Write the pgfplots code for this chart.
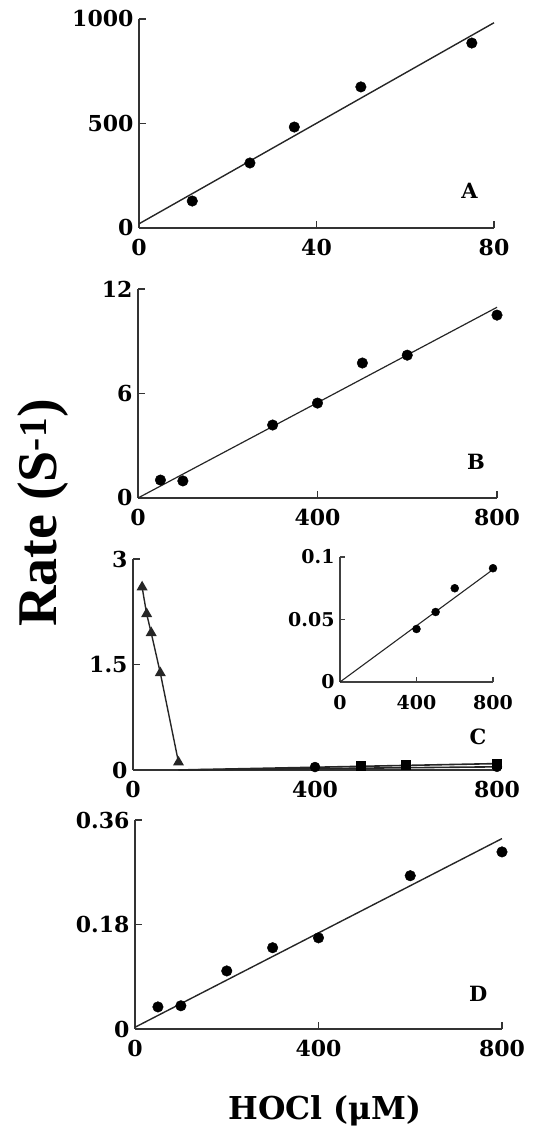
\documentclass[border=0pt]{standalone}
\usepackage{pgfplots}
\pgfplotsset{compat=1.18}
\usepackage{fontspec}
\setmainfont{DejaVu Serif}
\newfontfamily\labelfont{Liberation Serif}
\newcommand\tickfont{\fontsize{22}{24}\selectfont\bfseries}
\newcommand\insetfont{\fontsize{19}{21}\selectfont\bfseries}
\newcommand\letterfont{\fontsize{21}{23}\selectfont\bfseries}
\pgfplotsset{
  panel/.style={
    scale only axis, anchor=south west,
    axis x line*=bottom, axis y line*=left,
    axis line style={-, line width=1.6pt, black!80},
    every tick/.style={line width=1.4pt, black!80},
    tick align=inside, major tick length=7pt,
    enlargelimits=false, clip=false, xmin=0, ymin=0,
    ticklabel style={font=\tickfont},
    xticklabel style={yshift=-8pt},
    yticklabel style={xshift=-2pt},
  },
  fit/.style={black!85, line width=1.4pt, no marks},
  dots/.style={only marks, mark=*, mark size=5.3pt, black},
}
\begin{document}
\begin{tikzpicture}
\path[use as bounding box] (0,0) rectangle (543pt,1131pt);
% Panel A
\begin{axis}[panel, at={(139pt,903pt)}, width=355pt, height=209pt,
  xmax=80, ymax=1000, xtick={0,40,80}, xticklabels={0,40,80},
  ytick={0,500,1000}, yticklabels={0,500,1000}]
\addplot[fit] coordinates {(0,20) (80,982)};
\addplot[dots] coordinates {(12,129) (25,311) (35,483) (50,675) (75,885)};
\node[font=\letterfont] at (axis cs:74.5,177) {A};
\end{axis}
% Panel B
\begin{axis}[panel, at={(138pt,633pt)}, width=359pt, height=209pt,
  xmax=800, ymax=12, xtick={0,400,800}, xticklabels={0,400,800},
  ytick={0,6,12}, yticklabels={0,6,12}]
\addplot[fit, line width=1.2pt] coordinates {(0,0) (800,10.95)};
\addplot[dots] coordinates {(50,1.03) (100,0.98) (300,4.19) (400,5.45) (500,7.75) (600,8.2) (800,10.5)};
\node[font=\letterfont] at (axis cs:753,2.07) {B};
\end{axis}
% Panel C
\begin{axis}[panel, at={(133pt,361pt)}, width=364pt, height=211pt,
  xmax=800, ymax=3, xtick={0,400,800}, xticklabels={0,400,800},
  ytick={0,1.5,3}, yticklabels={0,1.5,3}]
\addplot[black!85, line width=1.4pt, mark=triangle*, mark size=5pt, mark options={solid}] coordinates {(20,2.6) (30,2.22) (40,1.95) (60,1.38) (100,0.11)};
\addplot[fit, line width=1.6pt] coordinates {(100,0) (800,0.091)};
\addplot[fit, line width=1.6pt] coordinates {(100,0) (800,0.045)};
\addplot[only marks, mark=*, mark size=5pt, black] coordinates {(400,0.042) (800,0.045)};
\addplot[only marks, mark=square*, mark size=4.5pt, black] coordinates {(500,0.056) (600,0.074) (800,0.091)};
\node[font=\letterfont] at (axis cs:758,0.47) {C};
\end{axis}
% Inset of panel C
\begin{axis}[panel, at={(340pt,449pt)}, width=153pt, height=125pt,
  xmax=800, ymax=0.1, xtick={0,400,800}, xticklabels={0,400,800},
  ytick={0,0.05,0.1}, yticklabels={0,0.05,0.1},
  axis line style={-, line width=1.2pt, black!75},
  every tick/.style={line width=1.1pt, black!75}, major tick length=5pt,
  ticklabel style={font=\insetfont},
  xticklabel style={yshift=-2pt}, yticklabel style={xshift=0pt}]
\addplot[fit, line width=1.1pt] coordinates {(0,0) (800,0.09)};
\addplot[dots, mark size=4pt] coordinates {(400,0.0424) (500,0.056) (600,0.075) (800,0.091)};
\end{axis}
% Panel D
\begin{axis}[panel, at={(135pt,102pt)}, width=367pt, height=209pt,
  xmax=800, ymax=0.36, xtick={0,400,800}, xticklabels={0,400,800},
  ytick={0,0.18,0.36}, yticklabels={0,0.18,0.36}]
\addplot[fit] coordinates {(0,0.003) (800,0.328)};
\addplot[dots] coordinates {(50,0.038) (100,0.04) (200,0.10) (300,0.14) (400,0.157) (600,0.264) (800,0.305)};
\node[font=\letterfont] at (axis cs:748,0.061) {D};
\end{axis}
% Axis titles
\node[rotate=90, anchor=base, font=\labelfont\fontsize{56}{60}\selectfont\bfseries] at (56pt,618pt) {Rate (S\textsuperscript{-1})};
\node[anchor=base, font=\fontsize{31.5}{34}\selectfont\bfseries] at (325pt,12pt) {HOCl (μM)};
\end{tikzpicture}
\end{document}
